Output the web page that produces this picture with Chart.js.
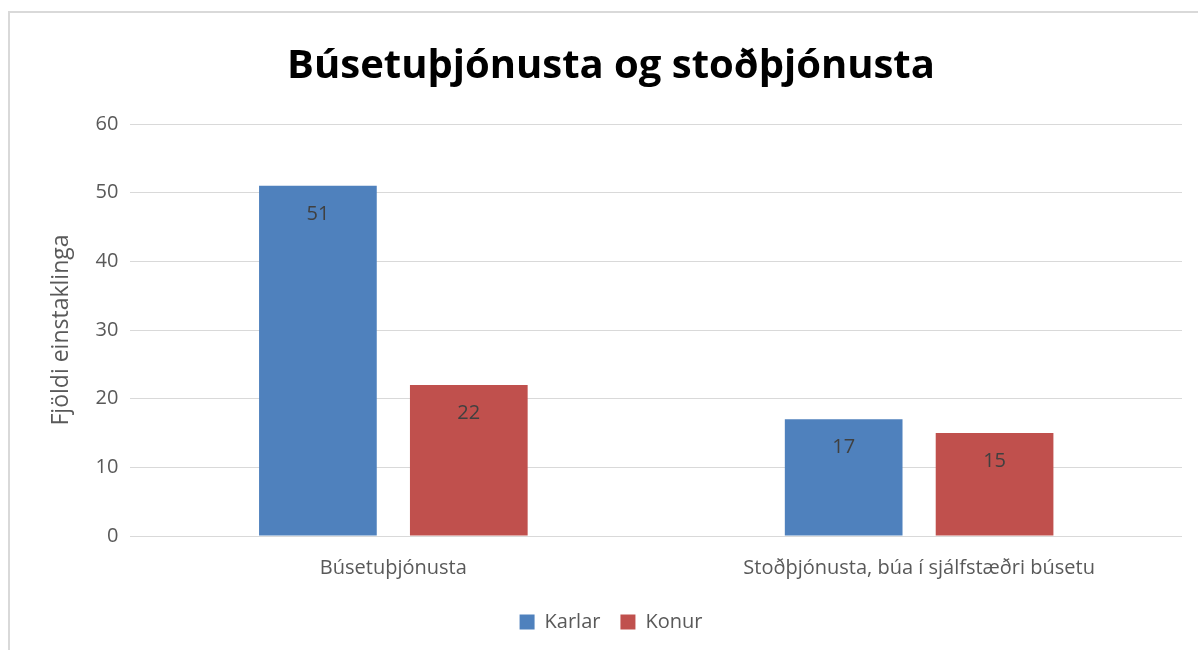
<!DOCTYPE html>
<html>
<head>
<meta charset="utf-8">
<script src="https://cdn.jsdelivr.net/npm/chart.js@4"></script>
<style>
  html, body { margin: 0; padding: 0; background: #fff; overflow: hidden; }
  #frame { position: absolute; left: 8px; top: 11px; width: 1250px; height: 700px; border: 2px solid #d9d9d9; }
  #chart { position: absolute; left: 0; top: 0; }
</style>
</head>
<body>
<div id="frame"></div>
<canvas id="chart" width="1198" height="650"></canvas>
<script>
const categories = ['Búsetuþjónusta', 'Stoðþjónusta, búa í sjálfstæðri búsetu'];
const karlar = [51, 17];
const konur = [22, 15];
const yTicks = [0, 10, 20, 30, 40, 50, 60];

const FONT = "'Open Sans', 'Noto Sans', sans-serif";

// simple value labels inside the top of each bar
const barLabels = {
  id: 'barLabels',
  afterDatasetsDraw(chart) {
    const ctx = chart.ctx;
    ctx.save();
    ctx.fillStyle = '#404040';
    ctx.font = '20px ' + FONT;
    ctx.textAlign = 'center';
    ctx.textBaseline = 'middle';
    chart.data.datasets.forEach((ds, i) => {
      chart.getDatasetMeta(i).data.forEach((bar, j) => {
        ctx.fillText(ds.data[j], bar.x, bar.y + 28);
      });
    });
    ctx.restore();
  }
};

new Chart(document.getElementById('chart'), {
  type: 'bar',
  data: {
    labels: categories,
    datasets: [
      { label: 'Karlar', data: karlar, backgroundColor: '#4f81bd', categoryPercentage: 0.574, barPercentage: 0.78 },
      { label: 'Konur', data: konur, backgroundColor: '#c0504d', categoryPercentage: 0.574, barPercentage: 0.78 }
    ]
  },
  options: {
    responsive: false,
    animation: false,
    layout: { padding: { left: 40, right: 16, top: 43, bottom: 8 } },
    plugins: {
      title: {
        display: true,
        text: 'Búsetuþjónusta og stoðþjónusta',
        color: '#000',
        font: { family: FONT, size: 40, weight: 'bold' },
        padding: { top: 0, bottom: 33 }
      },
      legend: {
        position: 'bottom',
        labels: {
          color: '#595959',
          font: { family: FONT, size: 20 },
          boxWidth: 15,
          boxHeight: 15,
          padding: 20
        }
      },
      tooltip: { enabled: false }
    },
    scales: {
      x: {
        grid: { display: false },
        border: { display: false },
        ticks: { color: '#595959', font: { family: FONT, size: 20 }, padding: 12 }
      },
      y: {
        min: 0,
        max: 60,
        afterBuildTicks: axis => { axis.ticks = yTicks.map(v => ({ value: v })); },
        grid: { color: '#d9d9d9', drawTicks: false },
        border: { display: false },
        ticks: { color: '#595959', font: { family: FONT, size: 20 }, padding: 12 },
        title: { display: true, text: 'Fjöldi einstaklinga', color: '#595959', font: { family: FONT, size: 23 }, padding: 8 }
      }
    }
  },
  plugins: [barLabels]
});
</script>
</body>
</html>
